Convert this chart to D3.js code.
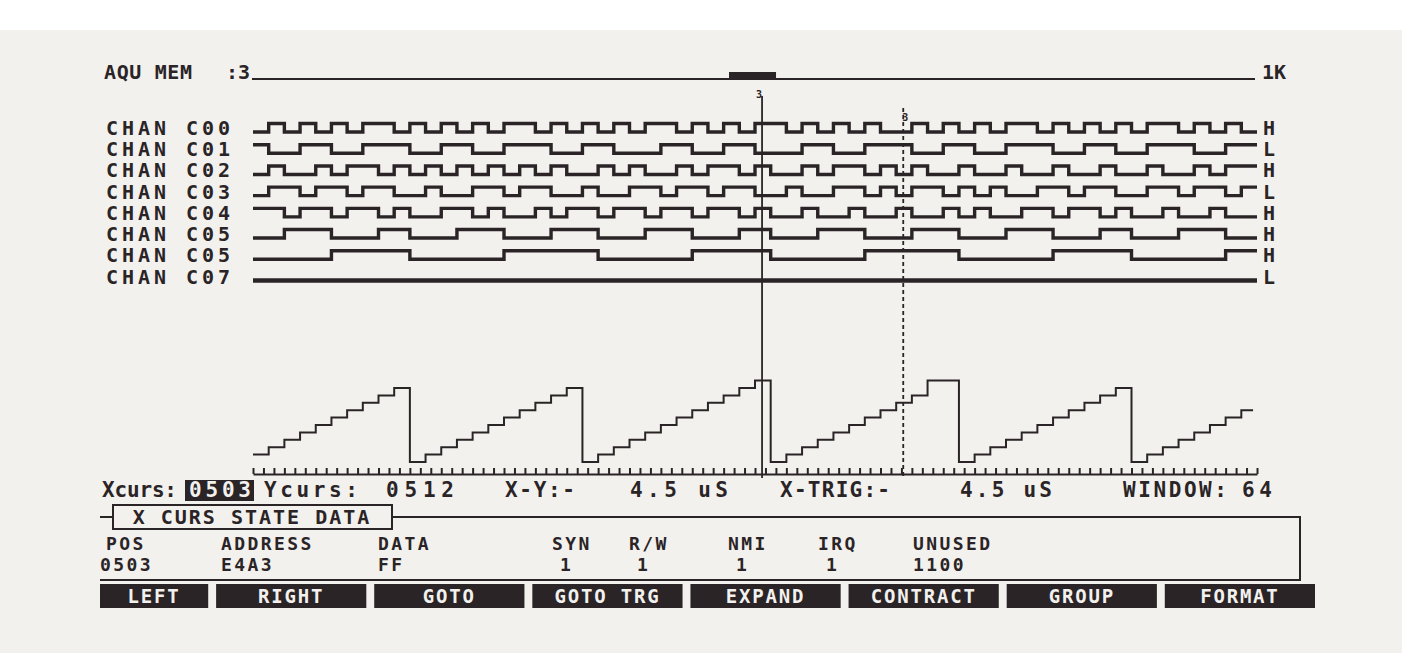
<!DOCTYPE html>
<html>
<head>
<meta charset="utf-8">
<script src="https://cdn.jsdelivr.net/npm/d3@7"></script>
<style>
  html, body { margin: 0; padding: 0; background: #fff; }
  svg { display: block; }
  text { font-family: "DejaVu Sans Mono", monospace; font-weight: bold; fill: #2a2427; }
</style>
</head>
<body>
<svg id="chart" width="1402" height="653"></svg>
<script>
// ---- data ----
const WINDOW = 64;
const MEM_SIZE = 1024;
const memWindow = [487, 535];
const xCursor = 32.45;
const trigCursor = 41.45;

const channels = ["C00", "C01", "C02", "C03", "C04", "C05", "C05", "C07"];
const channelBits = [
  "0101010110101010" + "1101010101101010" + "1101010100101010" + "1101010101101010",
  "1001100111001100" + "1110011000110011" + "0001100111001100" + "1110011001110011",
  "0100101101010101" + "0101001010010110" + "1001011010100100" + "1001001001001011",
  "0110110110010011" + "0110010011011011" + "0010011010110101" + "0011011001101101",
  "1101101101001101" + "0010110110110110" + "1001001001001010" + "0110110100100100",
  "0011100011000111" + "0001110001110001" + "1000111000111000" + "1110001100011100",
  "0000011111000000" + "1111110000001111" + "1000000111111000" + "0001111100000011",
  "0000000000000000" + "0000000000000000" + "0000000000000000" + "0000000000000000"
];
const endStates = ["H", "L", "H", "L", "H", "H", "H", "L"];

const stairValues = [
  1, 2, 3, 4, 5, 6, 7, 8, 9, 10,
  0, 1, 2, 3, 4, 5, 6, 7, 8, 9, 10,
  0, 1, 2, 3, 4, 5, 6, 7, 8, 9, 10, 11,
  0, 1, 2, 3, 4, 5, 6, 7, 8, 9, 11, 11,
  0, 1, 2, 3, 4, 5, 6, 7, 8, 9, 10,
  0, 1, 2, 3, 4, 5, 6, 7
];
const TICK_COUNT = 96;

const statusTexts = ["Xcurs:", "0503", "Ycurs:", "0512", "X-Y:-", "4.5 uS", "X-TRIG:-", "4.5 uS", "WINDOW:", "64"];
const columnHeaders = ["POS", "ADDRESS", "DATA", "SYN", "R/W", "NMI", "IRQ", "UNUSED"];
const columnValues = ["0503", "E4A3", "FF", "1", "1", "1", "1", "1100"];
const softKeys = ["LEFT", "RIGHT", "GOTO", "GOTO TRG", "EXPAND", "CONTRACT", "GROUP", "FORMAT"];

// ---- drawing ----
const INK = "#2a2427";
const PAPER = "#f3f1ee";
const svg = d3.select("#chart");

svg.append("rect").attr("width", 1402).attr("height", 653).attr("fill", "#fff");
svg.append("rect").attr("y", 30).attr("width", 1402).attr("height", 623).attr("fill", PAPER);

const x = d3.scaleLinear().domain([0, WINDOW]).range([253, 1257]);
const rowY = d3.scaleLinear().domain([0, channels.length - 1]).range([132, 280.5]);
const memX = d3.scaleLinear().domain([0, MEM_SIZE]).range([252, 1255]);

// acquisition memory bar
svg.append("text").attr("x", 104).attr("y", 79).attr("font-size", 20)
  .attr("textLength", 88).attr("lengthAdjust", "spacing").text("AQU MEM");
svg.append("text").attr("x", 226).attr("y", 79).attr("font-size", 20).text(":3");
svg.append("line")
  .attr("x1", memX(0)).attr("x2", memX(MEM_SIZE)).attr("y1", 79).attr("y2", 79)
  .attr("stroke", INK).attr("stroke-width", 2);
svg.append("rect")
  .attr("x", memX(memWindow[0])).attr("width", memX(memWindow[1]) - memX(memWindow[0]))
  .attr("y", 72).attr("height", 6).attr("fill", INK);
svg.append("text").attr("x", 1262).attr("y", 79).attr("font-size", 20).text("1K");

// channel labels
const labels = svg.append("g");
labels.selectAll(".chan").data(channels).join("text")
  .attr("x", 106).attr("y", (d, i) => rowY(i) + 3)
  .attr("font-size", 20).attr("textLength", 124).attr("lengthAdjust", "spacing")
  .text(d => "CHAN " + d);
labels.selectAll(".state").data(endStates).join("text")
  .attr("x", 1263).attr("y", (d, i) => rowY(i) + 3)
  .attr("font-size", 20)
  .text(d => d);

// digital traces
const traces = svg.append("g");
channelBits.forEach((bits, ci) => {
  const pts = bits.split("").map((b, i) => [i, +b]);
  pts.push([WINDOW, pts[pts.length - 1][1]]);
  const level = d3.scaleLinear().domain([0, 1]).range([rowY(ci), rowY(ci) - 8.5]);
  const line = d3.line().x(d => x(d[0])).y(d => level(d[1])).curve(d3.curveStepAfter);
  traces.append("path").attr("d", line(pts))
    .attr("fill", "none").attr("stroke", INK)
    .attr("stroke-width", ci === channels.length - 1 ? 4.5 : 3.4);
});

// analog (staircase) display
const yStair = d3.scaleLinear().domain([0, 11]).range([462, 380.6]);
const stairPts = stairValues.map((v, i) => [i, v]);
stairPts.push([WINDOW - 0.25, stairValues[stairValues.length - 1]]);
svg.append("path")
  .attr("d", d3.line().x(d => x(d[0])).y(d => yStair(d[1])).curve(d3.curveStepAfter)(stairPts))
  .attr("fill", "none").attr("stroke", INK).attr("stroke-width", 2);

// time axis with ticks
const tickScale = d3.scaleLinear().domain([0, TICK_COUNT]).range([253, 1257]);
const axis = svg.append("g").attr("transform", "translate(0,474)")
  .call(d3.axisTop(tickScale).tickValues(d3.range(0, TICK_COUNT + 1))
    .tickSize(6).tickSizeOuter(0).tickFormat(""));
axis.selectAll("path,line").attr("stroke", INK).attr("stroke-width", 2);

// cursors
svg.append("line").attr("x1", x(xCursor)).attr("x2", x(xCursor)).attr("y1", 96).attr("y2", 478)
  .attr("stroke", INK).attr("stroke-width", 1.8);
svg.append("line").attr("x1", x(trigCursor)).attr("x2", x(trigCursor)).attr("y1", 108).attr("y2", 478)
  .attr("stroke", INK).attr("stroke-width", 1.8).attr("stroke-dasharray", "4,3");
svg.append("text").attr("x", x(xCursor) - 6).attr("y", 98).attr("font-size", 10).text("3");
svg.append("text").attr("x", x(trigCursor) - 1).attr("y", 121).attr("font-size", 10).text("3");

// status row (x start, width per text)
const statusPos = [[102, 75], [189, 62], [264, 94], [386, 68], [505, 70],
                   [630, 98], [780, 110], [960, 92], [1123, 104], [1242, 30]];
const status = svg.append("g");
status.append("rect").attr("x", 185).attr("y", 480).attr("width", 69).attr("height", 21).attr("fill", INK);
statusTexts.forEach((s, i) => {
  status.append("text").attr("x", statusPos[i][0]).attr("y", 497)
    .attr("font-size", 21).attr("textLength", statusPos[i][1]).attr("lengthAdjust", "spacing")
    .style("fill", i === 1 ? PAPER : INK).text(s);
});

// state data frame
const frame = svg.append("g");
frame.append("path")
  .attr("d", "M100,517 H113 M392,517 H1300 V580 H100")
  .attr("fill", "none").attr("stroke", INK).attr("stroke-width", 2);
frame.append("rect").attr("x", 113).attr("y", 505).attr("width", 279).attr("height", 24)
  .attr("fill", PAPER).attr("stroke", INK).attr("stroke-width", 2);
frame.append("text").attr("x", 252).attr("y", 524).attr("text-anchor", "middle")
  .attr("font-size", 20).attr("letter-spacing", 2).text("X CURS STATE DATA");

const colX = [106, 221, 378, 552, 629, 728, 818, 913];
const valX = [100, 221, 378, 560, 637, 736, 826, 913];
frame.selectAll(".hdr").data(columnHeaders).join("text")
  .attr("x", (d, i) => colX[i]).attr("y", 550)
  .attr("font-size", 18).attr("letter-spacing", 2.4).text(d => d);
frame.selectAll(".val").data(columnValues).join("text")
  .attr("x", (d, i) => valX[i]).attr("y", 571)
  .attr("font-size", 18).attr("letter-spacing", 2.4).text(d => d);

// soft keys
const keyX = d3.scaleBand().domain(softKeys).range([58, 1315]).paddingInner(0.05);
const keys = svg.append("g").selectAll("g").data(softKeys).join("g")
  .attr("transform", d => `translate(${keyX(d)},584)`);
keys.append("rect").attr("x", (d, i) => i === 0 ? 42 : 0)
  .attr("width", (d, i) => i === 0 ? keyX.bandwidth() - 42 : keyX.bandwidth())
  .attr("height", 24).attr("fill", INK);
keys.append("text").attr("x", (d, i) => i === 0 ? (keyX.bandwidth() + 42) / 2 : keyX.bandwidth() / 2)
  .attr("y", 19).attr("text-anchor", "middle")
  .attr("font-size", 19).attr("letter-spacing", 1.8)
  .style("fill", PAPER).text(d => d);
</script>
</body>
</html>
